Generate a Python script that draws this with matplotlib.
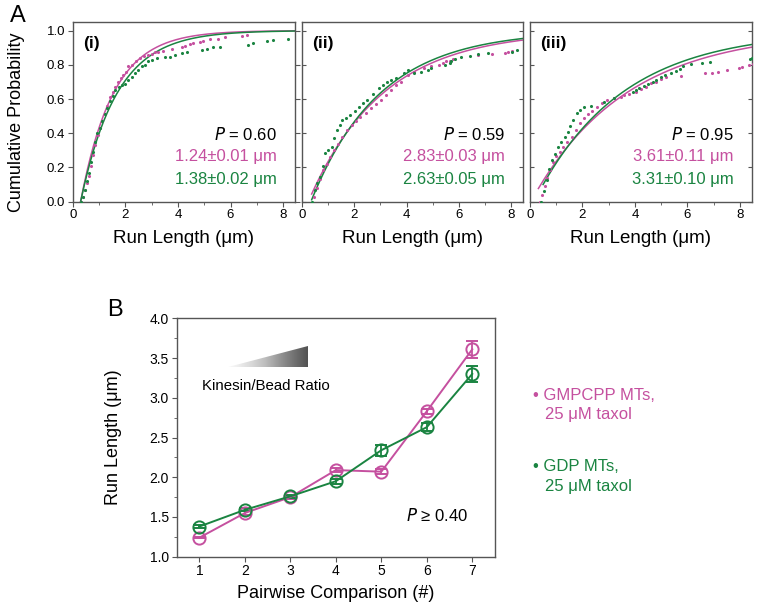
"""Run length CDFs (A) and pairwise run length comparison (B)."""

import matplotlib
matplotlib.use("Agg")
import matplotlib.pyplot as plt
import numpy as np
from matplotlib.patches import Polygon

plt.rcParams["font.family"] = ["Liberation Sans", "DejaVu Sans"]
plt.rcParams["mathtext.fontset"] = "custom"

MAGENTA = "#c5509f"
GREEN = "#1a8441"
FRAME = "#555555"

W, H = 761, 612

# ---- panel A data: empirical CDF points (x in um, cumulative probability) ----
PANEL_NAMES = ["(i)", "(ii)", "(iii)"]
P_TEXT = ["0.60", "0.59", "0.95"]
GMP_TEXT = ["1.24±0.01 μm", "2.83±0.03 μm", "3.61±0.11 μm"]
GDP_TEXT = ["1.38±0.02 μm", "2.63±0.05 μm", "3.31±0.10 μm"]

# fitted exponential run lengths and offsets
GMP_TAU = [1.24, 2.83, 3.61]
GDP_TAU = [1.38, 2.63, 3.31]
GMP_X0 = [0.30, 0.25, 0.03]
GDP_X0 = [0.30, 0.35, 0.15]
FIT_START = [0.30, 0.38, 0.32]
FIT_START_GDP = [0.30, 0.38, 0.50]

gmp_x_i = [0.32, 0.40, 0.48, 0.55, 0.62, 0.70, 0.78, 0.86, 0.95, 1.03, 1.12, 1.22, 1.32,
           1.42, 1.52, 1.62, 1.72, 1.82, 1.92, 2.02, 2.12, 2.25, 2.40, 2.55, 2.70, 2.85,
           3.00, 3.13, 3.25, 3.44, 3.76, 4.14, 4.27, 4.46, 4.59, 4.84, 4.97, 5.22, 5.54,
           5.79, 6.43, 6.62]
gmp_y_i = [0.00, 0.03, 0.07, 0.11, 0.15, 0.21, 0.27, 0.33, 0.39, 0.43, 0.47, 0.51, 0.56,
           0.61, 0.64, 0.67, 0.70, 0.72, 0.74, 0.76, 0.79, 0.80, 0.82, 0.84, 0.85, 0.86,
           0.865, 0.874, 0.877, 0.883, 0.891, 0.903, 0.910, 0.922, 0.926, 0.934, 0.940,
           0.950, 0.953, 0.961, 0.971, 0.973]
gdp_x_i = [0.30, 0.38, 0.46, 0.54, 0.62, 0.70, 0.78, 0.86, 0.94, 1.02, 1.12, 1.22, 1.32,
           1.42, 1.52, 1.62, 1.75, 1.88, 2.00, 2.12, 2.25, 2.38, 2.50, 2.62, 2.75, 2.88,
           3.00, 3.19, 3.51, 3.70, 3.89, 4.14, 4.33, 4.90, 5.09, 5.35, 5.60, 6.68, 6.87,
           7.38, 7.63, 8.20]
gdp_y_i = [0.00, 0.03, 0.07, 0.12, 0.17, 0.23, 0.29, 0.35, 0.40, 0.43, 0.47, 0.51, 0.55,
           0.59, 0.62, 0.65, 0.67, 0.68, 0.69, 0.71, 0.73, 0.75, 0.77, 0.79, 0.80, 0.82,
           0.829, 0.839, 0.844, 0.848, 0.856, 0.868, 0.875, 0.887, 0.895, 0.903, 0.906,
           0.916, 0.930, 0.938, 0.945, 0.953]

gmp_x_ii = [0.45, 0.58, 0.70, 0.83, 0.96, 1.09, 1.22, 1.38, 1.55, 1.73, 1.90, 2.07, 2.24,
            2.44, 2.63, 2.82, 3.01, 3.20, 3.40, 3.59, 3.78, 4.04, 4.29, 4.68, 4.93, 5.25,
            5.38, 5.51, 5.64, 5.77, 6.73, 7.24, 7.75, 7.88, 8.01]
gmp_y_ii = [0.03, 0.08, 0.13, 0.185, 0.22, 0.26, 0.30, 0.34, 0.38, 0.42, 0.45, 0.47,
            0.497, 0.52, 0.546, 0.57, 0.595, 0.625, 0.653, 0.68, 0.70, 0.741, 0.760,
            0.78, 0.79, 0.80, 0.81, 0.82, 0.825, 0.833, 0.858, 0.862, 0.871, 0.877, 0.881]
gdp_x_ii = [0.38, 0.50, 0.60, 0.70, 0.80, 0.90, 1.02, 1.15, 1.25, 1.35, 1.45, 1.54, 1.70,
            1.86, 2.02, 2.18, 2.34, 2.50, 2.72, 2.95, 3.11, 3.27, 3.40, 3.59, 3.91, 4.04,
            4.29, 4.55, 4.81, 4.93, 5.45, 5.64, 5.70, 5.83, 6.09, 6.41, 6.73, 7.12, 8.01,
            8.20]
gdp_y_ii = [0.00, 0.07, 0.11, 0.146, 0.21, 0.283, 0.30, 0.32, 0.37, 0.419, 0.45, 0.478,
            0.49, 0.507, 0.53, 0.556, 0.575, 0.595, 0.63, 0.663, 0.68, 0.702, 0.712,
            0.721, 0.751, 0.770, 0.751, 0.760, 0.770, 0.780, 0.80, 0.81, 0.82, 0.833,
            0.844, 0.852, 0.864, 0.868, 0.877, 0.887]

gmp_x_iii = [0.37, 0.45, 0.56, 0.66, 0.76, 0.88, 1.01, 1.14, 1.27, 1.42, 1.59, 1.75, 1.90,
             2.05, 2.20, 2.38, 2.56, 2.75, 2.95, 3.20, 3.46, 3.59, 3.78, 4.04, 4.23, 4.42,
             4.62, 4.81, 5.00, 5.19, 5.77, 6.67, 6.92, 7.18, 7.50, 7.95, 8.08, 8.33, 8.49]
gmp_y_iii = [0.00, 0.04, 0.09, 0.14, 0.185, 0.23, 0.265, 0.29, 0.32, 0.35, 0.38, 0.42,
             0.46, 0.49, 0.51, 0.53, 0.555, 0.575, 0.595, 0.605, 0.614, 0.624, 0.630,
             0.643, 0.657, 0.673, 0.692, 0.702, 0.716, 0.727, 0.735, 0.751, 0.754, 0.760,
             0.770, 0.780, 0.786, 0.798, 0.805]
gdp_x_iii = [0.43, 0.53, 0.63, 0.72, 0.82, 0.95, 1.08, 1.20, 1.33, 1.43, 1.53, 1.65, 1.78,
             1.91, 2.04, 2.31, 2.82, 3.21, 3.91, 4.04, 4.17, 4.36, 4.49, 4.68, 4.81, 5.00,
             5.13, 5.38, 5.58, 5.70, 5.83, 6.15, 6.54, 6.86, 8.40, 8.46]
gdp_y_iii = [0.00, 0.06, 0.127, 0.19, 0.244, 0.28, 0.32, 0.35, 0.38, 0.41, 0.44, 0.478,
             0.517, 0.536, 0.556, 0.56, 0.585, 0.605, 0.643, 0.653, 0.663, 0.677, 0.687,
             0.702, 0.712, 0.731, 0.741, 0.754, 0.764, 0.774, 0.790, 0.805, 0.813, 0.819,
             0.833, 0.839]

GMP_X = [gmp_x_i, gmp_x_ii, gmp_x_iii]
GMP_Y = [gmp_y_i, gmp_y_ii, gmp_y_iii]
GDP_X = [gdp_x_i, gdp_x_ii, gdp_x_iii]
GDP_Y = [gdp_y_i, gdp_y_ii, gdp_y_iii]

# ---- panel B data ----
comparison = [1, 2, 3, 4, 5, 6, 7]
gmp_run = [1.24, 1.55, 1.75, 2.09, 2.07, 2.83, 3.61]
gmp_err = [0.01, 0.02, 0.02, 0.03, 0.03, 0.03, 0.11]
gdp_run = [1.38, 1.59, 1.76, 1.95, 2.34, 2.63, 3.30]
gdp_err = [0.02, 0.02, 0.02, 0.03, 0.07, 0.05, 0.10]


def px_axes(left, top, right, bottom):
    return [left / W, 1 - bottom / H, (right - left) / W, (bottom - top) / H]


def style_frame(ax):
    for sp in ax.spines.values():
        sp.set_color(FRAME)
        sp.set_linewidth(1.0)


fig = plt.figure(figsize=(W / 100, H / 100), dpi=100)

lefts = [72.7, 301.7, 530.0]
rights = [295.0, 523.3, 751.7]
for k in range(3):
    ax = fig.add_axes(px_axes(lefts[k], 22, rights[k], 201.7))
    style_frame(ax)
    ax.scatter(GMP_X[k], GMP_Y[k], s=5, color=MAGENTA, lw=0, zorder=3)
    ax.scatter(GDP_X[k], GDP_Y[k], s=5, color=GREEN, lw=0, zorder=3)
    xf = np.linspace(FIT_START[k], 8.6, 200)
    ax.plot(xf, 1 - np.exp(-(xf - GMP_X0[k]) / GMP_TAU[k]), color=MAGENTA, lw=1.1, zorder=2)
    xg = np.linspace(FIT_START_GDP[k], 8.6, 200)
    ax.plot(xg, 1 - np.exp(-(xg - GDP_X0[k]) / GDP_TAU[k]), color=GREEN, lw=1.1, zorder=2)
    ax.set_xlim(0, 8.45)
    ax.set_ylim(0, 1.05)
    ax.set_xticks([0, 2, 4, 6, 8])
    ax.set_xticks([1, 3, 5, 7], minor=True)
    ax.set_yticks([0, 0.2, 0.4, 0.6, 0.8, 1.0])
    ax.tick_params(axis="x", which="both", direction="out", labelsize=9.5,
                   color=FRAME, pad=2)
    ax.tick_params(axis="x", which="major", length=3.5)
    ax.tick_params(axis="x", which="minor", length=2)
    if k == 0:
        ax.tick_params(axis="y", direction="out", length=3.5, labelsize=9.5,
                       color=FRAME, right=True, pad=2)
        ax.set_yticklabels(["0.0", "0.2", "0.4", "0.6", "0.8", "1.0"])
        ax.set_ylabel("Cumulative Probability", fontsize=13)
        ax.yaxis.set_label_coords(-0.215, 0.44)
    else:
        ax.tick_params(axis="y", direction="in", length=3, labelleft=False,
                       color=FRAME, right=True)
    ax.set_xlabel("Run Length (μm)", fontsize=13.5)
    ax.xaxis.set_label_coords(0.5, -0.155)
    ax.text(0.045, 0.88, PANEL_NAMES[k], transform=ax.transAxes, fontsize=12.5,
            fontweight="bold", va="center")
    ax.text(7.76, 0.39, "$\\it{P}$ = " + P_TEXT[k], ha="right", va="center",
            fontsize=12, color="black")
    ax.text(7.76, 0.263, GMP_TEXT[k], ha="right", va="center", fontsize=12,
            color=MAGENTA)
    ax.text(7.76, 0.127, GDP_TEXT[k], ha="right", va="center", fontsize=12,
            color=GREEN)

fig.text(17.5 / W, 1 - 16 / H, "A", fontsize=17, ha="center", va="center")
fig.text(114.5 / W, 1 - 310.5 / H, "B", fontsize=17, ha="center", va="center")

# ---- panel B ----
axb = fig.add_axes(px_axes(176.7, 318.3, 495, 556.7))
style_frame(axb)
for yv, ye, col in [(gmp_run, gmp_err, MAGENTA), (gdp_run, gdp_err, GREEN)]:
    axb.errorbar(comparison, yv, yerr=ye, fmt="-o", color=col, mfc="none", mec=col,
                 ms=8.8, mew=1.4, lw=1.4, capsize=4.5, capthick=1.3, elinewidth=1.3,
                 zorder=3)
axb.set_xlim(0.5, 7.5)
axb.set_ylim(1.0, 4.0)
axb.set_xticks(comparison)
axb.set_yticks([1.0, 1.5, 2.0, 2.5, 3.0, 3.5, 4.0])
axb.set_yticks(np.arange(1.25, 4.0, 0.5), minor=True)
axb.set_yticklabels(["1.0", "1.5", "2.0", "2.5", "3.0", "3.5", "4.0"])
axb.tick_params(axis="both", which="major", direction="out", length=3.5,
                labelsize=10, color=FRAME, pad=2)
axb.tick_params(axis="y", which="minor", direction="out", length=2, color=FRAME)
axb.set_xlabel("Pairwise Comparison (#)", fontsize=13)
axb.xaxis.set_label_coords(0.5, -0.118)
axb.set_ylabel("Run Length (μm)", fontsize=13)
axb.yaxis.set_label_coords(-0.172, 0.5)

# gradient wedge for the kinesin/bead ratio
tri_x = [1.63, 3.38, 3.38]
tri_y = [3.39, 3.39, 3.65]
grad = np.linspace(0.05, 0.75, 256).reshape(1, -1)
im = axb.imshow(grad, extent=[tri_x[0], tri_x[1], tri_y[0], tri_y[2]], aspect="auto",
                cmap="Greys", vmin=0, vmax=1, origin="lower", zorder=2)
tri = Polygon(list(zip(tri_x, tri_y)), closed=True, facecolor="none", edgecolor="none")
axb.add_patch(tri)
im.set_clip_path(tri)
axb.set_xlim(0.5, 7.5)
axb.set_ylim(1.0, 4.0)
axb.text(1.06, 3.15, "Kinesin/Bead Ratio", fontsize=10.8, va="center", ha="left")
axb.text(5.55, 1.52, "$\\it{P}$ ≥ 0.40", fontsize=12, va="center", ha="left")

# side labels
fig.text(533 / W, 1 - 395 / H, "• GMPCPP MTs,", color=MAGENTA, fontsize=12, va="center")
fig.text(545 / W, 1 - 415 / H, "25 μM taxol", color=MAGENTA, fontsize=12, va="center")
fig.text(533 / W, 1 - 466.7 / H, "• GDP MTs,", color=GREEN, fontsize=12, va="center")
fig.text(545 / W, 1 - 486.7 / H, "25 μM taxol", color=GREEN, fontsize=12, va="center")

fig.savefig("out.png", dpi=100)
